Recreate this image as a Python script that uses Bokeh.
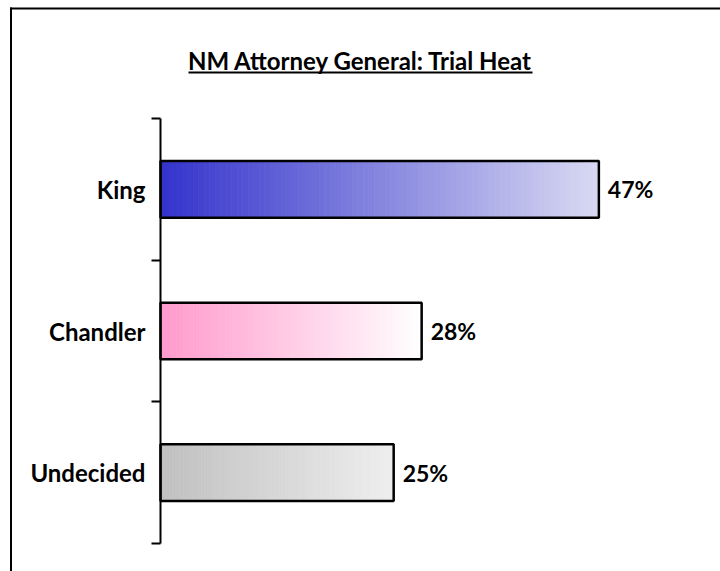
from bokeh.plotting import figure
from bokeh.models import Range1d, FixedTicker, Label, BoxAnnotation
from bokeh.core.properties import value
from bokeh.embed import file_html
from bokeh.resources import INLINE

# ---- data ----
categories = ["King", "Chandler", "Undecided"]
values = [47, 28, 25]
value_labels = ["47%", "28%", "25%"]
start_colors = [(51, 51, 204), (255, 153, 204), (192, 192, 192)]
end_colors = [(217, 217, 243), (255, 255, 255), (238, 238, 238)]
title_text = "NM Attorney General: Trial Heat"

# ---- layout (page pixels) ----
OX, OY = 0, 0            # where the figure lands on the screenshot
W, H = 722, 571
AXIS_X = 160             # page x of value 0
AXIS_TOP, AXIS_BOT = 118, 543
PX_PER_UNIT = 9.327
n = len(categories)
px_y = (AXIS_BOT - AXIS_TOP) / n

def dx(px):
    return (px - AXIS_X) / PX_PER_UNIT

def dy(py):
    return (AXIS_BOT - py) / px_y

FONT = "Lato"

p = figure(width=W, height=H,
           x_range=Range1d(dx(OX), dx(OX + W)), y_range=Range1d(dy(OY + H), dy(OY)),
           output_backend="svg", toolbar_location=None, x_axis_location=None,
           min_border=0, min_border_left=0, min_border_right=0, min_border_top=0, min_border_bottom=0)
p.xgrid.visible = False
p.ygrid.visible = False
p.outline_line_color = None
p.background_fill_color = "white"
p.border_fill_color = "white"

ypos = [n - i - 0.5 for i in range(n)]

ax = p.yaxis[0]
ax.fixed_location = 0
ax.bounds = (0, n)
ax.ticker = FixedTicker(ticks=ypos, minor_ticks=list(range(n + 1)))
ax.major_label_overrides = {y: c for y, c in zip(ypos, categories)}
ax.axis_line_width = 2
ax.axis_line_color = "black"
ax.major_tick_out = 0
ax.major_tick_in = 0
ax.minor_tick_out = 9
ax.minor_tick_in = 0
ax.minor_tick_line_width = 2
ax.minor_tick_line_color = "black"
ax.major_label_standoff = 6
ax.major_label_text_font = FONT
ax.major_label_text_font_style = "bold"
ax.major_label_text_font_size = "24px"
ax.major_label_text_color = "black"

# gradient fill built from slices of each bar
NSEG = 80
ys, lefts, rights, cols = [], [], [], []
for v, y, c0, c1 in zip(values, ypos, start_colors, end_colors):
    for k in range(NSEG):
        t = (k + 0.5) / NSEG
        r = round(c0[0] + (c1[0] - c0[0]) * t)
        g = round(c0[1] + (c1[1] - c0[1]) * t)
        b = round(c0[2] + (c1[2] - c0[2]) * t)
        ys.append(y)
        lefts.append(v * k / NSEG)
        rights.append(v * (k + 1) / NSEG)
        cols.append("#%02x%02x%02x" % (r, g, b))
p.hbar(y=ys, left=lefts, right=rights, height=0.4, fill_color=cols, line_color=cols, line_width=0.8)
p.hbar(y=ypos, left=0, right=values, height=0.4, fill_color=None, line_color="black", line_width=2.5)

p.text(x=values, y=ypos, text=value_labels, x_offset=9, text_baseline="middle", text_align="left",
       text_font=value(FONT), text_font_style="bold", text_font_size="23px", text_color="black")

# outer frame lines (top and left), meeting at the corner
p.add_layout(BoxAnnotation(left=dx(9.5), top=dy(7), bottom=dy(9),
                           fill_color="black", fill_alpha=1, line_color=None))
p.add_layout(BoxAnnotation(left=dx(9.5), right=dx(11.5), top=dy(7),
                           fill_color="black", fill_alpha=1, line_color=None))

# title with underline
p.add_layout(Label(x=dx(360), y=dy(60), text=title_text, text_align="center", text_baseline="middle",
                   text_font=FONT, text_font_style="bold", text_font_size="24px", text_color="black"))
p.add_layout(BoxAnnotation(left=dx(188), right=dx(532), top=dy(71), bottom=dy(73),
                           fill_color="black", fill_alpha=1, line_color=None))

open("out.html", "w").write(file_html(p, INLINE))
